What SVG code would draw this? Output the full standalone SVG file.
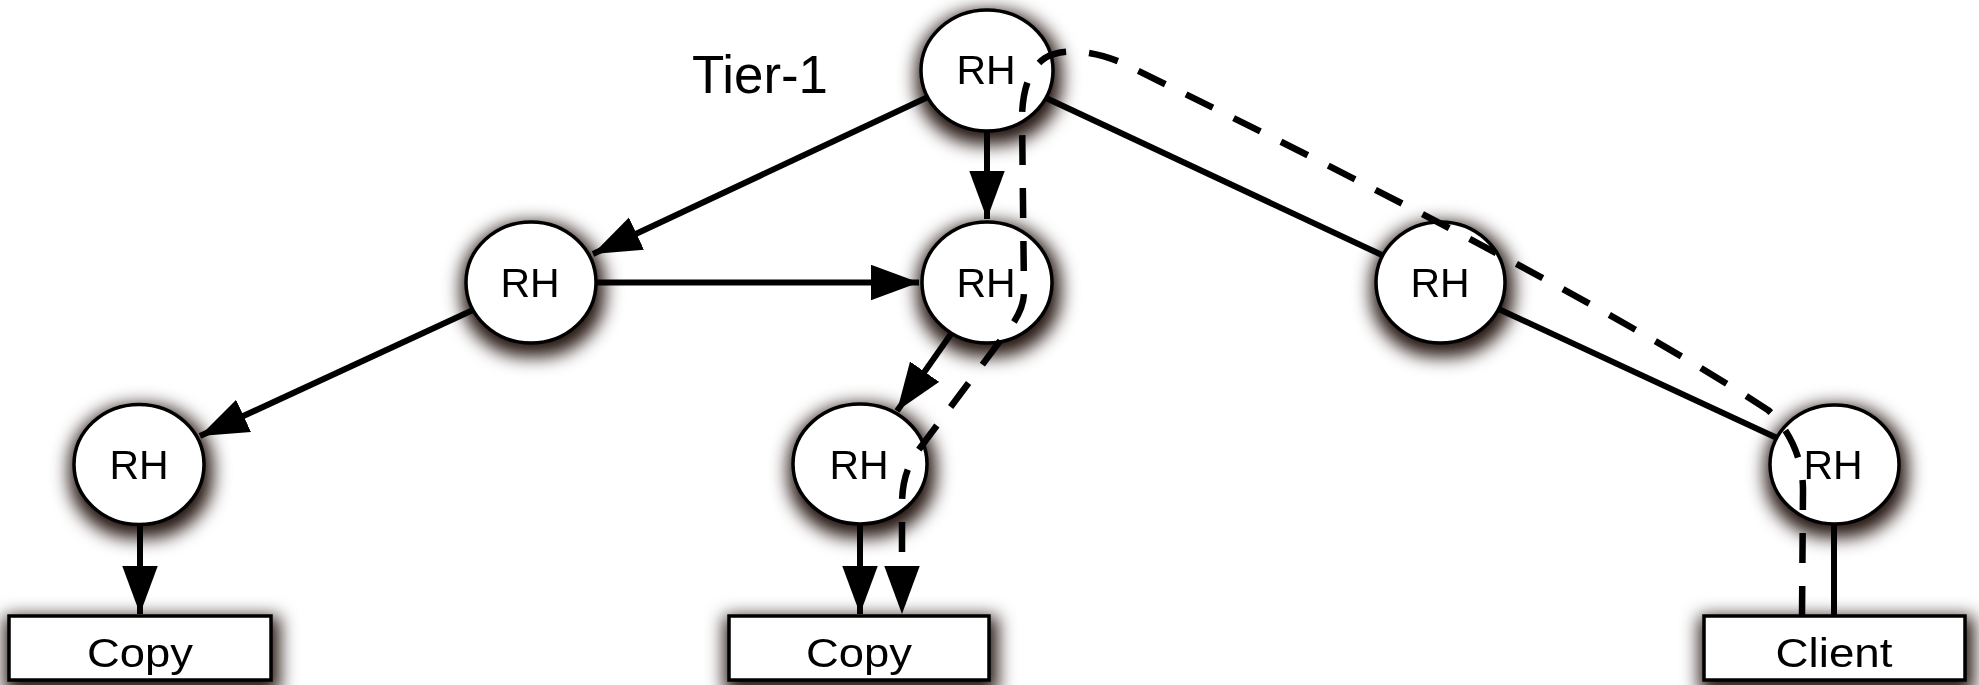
<svg xmlns="http://www.w3.org/2000/svg" width="1979" height="685" viewBox="0 0 1979 685">
  <defs>
    <filter id="shadow" x="-50%" y="-50%" width="200%" height="220%" color-interpolation-filters="sRGB">
      <feMorphology in="SourceAlpha" operator="dilate" radius="5" result="dil"/>
      <feGaussianBlur in="dil" stdDeviation="9" result="blur"/>
      <feOffset in="blur" dx="2" dy="7" result="off"/>
      <feFlood flood-color="#241510" flood-opacity="1"/>
      <feComposite in2="off" operator="in" result="sh"/>
      <feMerge>
        <feMergeNode in="sh"/>
        <feMergeNode in="SourceGraphic"/>
      </feMerge>
    </filter>
    <marker id="arrow" markerUnits="userSpaceOnUse" markerWidth="48" markerHeight="36" viewBox="0 0 46 34" refX="46" refY="17" orient="auto">
      <path d="M0,0 L46,17 L0,34 Z" fill="#000"/>
    </marker>
  </defs>
  <style>
    .node { fill: #fff; stroke: #000; stroke-width: 3.5; }
    .lbl { font-family: "Liberation Sans", Arial, Helvetica, sans-serif; fill: #000; text-anchor: middle; }
    .rh { font-size: 41px; }
    .box { font-size: 41px; }
    .edge { fill: none; stroke: #000; stroke-width: 6; }
    .arr { marker-end: url(#arrow); }
    .dash { fill: none; stroke: #000; stroke-width: 6.5; stroke-dasharray: 30 23; stroke-linecap: butt; marker-end: url(#arrow); }
  </style>
  <rect width="1979" height="685" fill="#fff"/>

  <text x="692" y="93" font-family="Liberation Sans, Arial, sans-serif" font-size="53" textLength="136" lengthAdjust="spacingAndGlyphs">Tier-1</text>

  <g id="nodes">
    <g id="rh-top" filter="url(#shadow)">
      <ellipse class="node" cx="987" cy="70.5" rx="66" ry="60.5"/>
      <text class="lbl rh" x="986" y="84">RH</text>
    </g>
    <g id="rh-mid-left" filter="url(#shadow)">
      <ellipse class="node" cx="531" cy="282.5" rx="65" ry="60.5"/>
      <text class="lbl rh" x="530" y="297">RH</text>
    </g>
    <g id="rh-mid-center" filter="url(#shadow)">
      <ellipse class="node" cx="987" cy="282.5" rx="65" ry="60.5"/>
      <text class="lbl rh" x="986" y="297">RH</text>
    </g>
    <g id="rh-mid-right" filter="url(#shadow)">
      <ellipse class="node" cx="1440.5" cy="282.5" rx="64.5" ry="60.5"/>
      <text class="lbl rh" x="1440" y="297">RH</text>
    </g>
    <g id="rh-bot-left" filter="url(#shadow)">
      <ellipse class="node" cx="139" cy="464.5" rx="65" ry="60"/>
      <text class="lbl rh" x="139" y="479">RH</text>
    </g>
    <g id="rh-bot-center" filter="url(#shadow)">
      <ellipse class="node" cx="860" cy="464" rx="67" ry="60"/>
      <text class="lbl rh" x="859" y="479">RH</text>
    </g>
    <g id="rh-bot-right" filter="url(#shadow)">
      <ellipse class="node" cx="1834.5" cy="464.5" rx="64.5" ry="59.5"/>
      <text class="lbl rh" x="1833" y="479">RH</text>
    </g>
    <g id="copy-left" filter="url(#shadow)">
      <rect class="node" x="9" y="616" width="262" height="64"/>
      <text class="lbl box" x="140" y="667" textLength="106" lengthAdjust="spacingAndGlyphs">Copy</text>
    </g>
    <g id="copy-center" filter="url(#shadow)">
      <rect class="node" x="729" y="616" width="260" height="64"/>
      <text class="lbl box" x="859" y="667" textLength="106" lengthAdjust="spacingAndGlyphs">Copy</text>
    </g>
    <g id="client" filter="url(#shadow)">
      <rect class="node" x="1704" y="616" width="261" height="64"/>
      <text class="lbl box" x="1834" y="667" textLength="117" lengthAdjust="spacingAndGlyphs">Client</text>
    </g>
  </g>

  <g id="connectors">
    <line class="edge arr" x1="928" y1="97" x2="593" y2="254"/>
    <line class="edge arr" x1="987" y1="131" x2="987" y2="219"/>
    <line class="edge arr" x1="596" y1="282.5" x2="919" y2="282.5"/>
    <line class="edge arr" x1="473" y1="310" x2="200" y2="436"/>
    <line class="edge arr" x1="951" y1="334" x2="897" y2="411"/>
    <line class="edge arr" x1="140" y1="524.5" x2="140" y2="614"/>
    <line class="edge arr" x1="860" y1="524" x2="860" y2="614"/>
    <line class="edge" x1="1046" y1="98" x2="1383" y2="255.5"/>
    <line class="edge" x1="1498.5" y1="309" x2="1777" y2="438"/>
    <line class="edge" x1="1834" y1="524" x2="1834" y2="616"/>
    <path class="dash" d="M1802,616 L1803,490 C1803,462 1792,432 1768,410 C1600,300 1300,150 1120,62 C1090,50 1062,48 1045,58 C1030,68 1023,88 1022,115 L1024,292 C1024,308 1015,322 1003,337 L920,448 C908,464 902,480 902,505 L902,614"/>
  </g>
</svg>
